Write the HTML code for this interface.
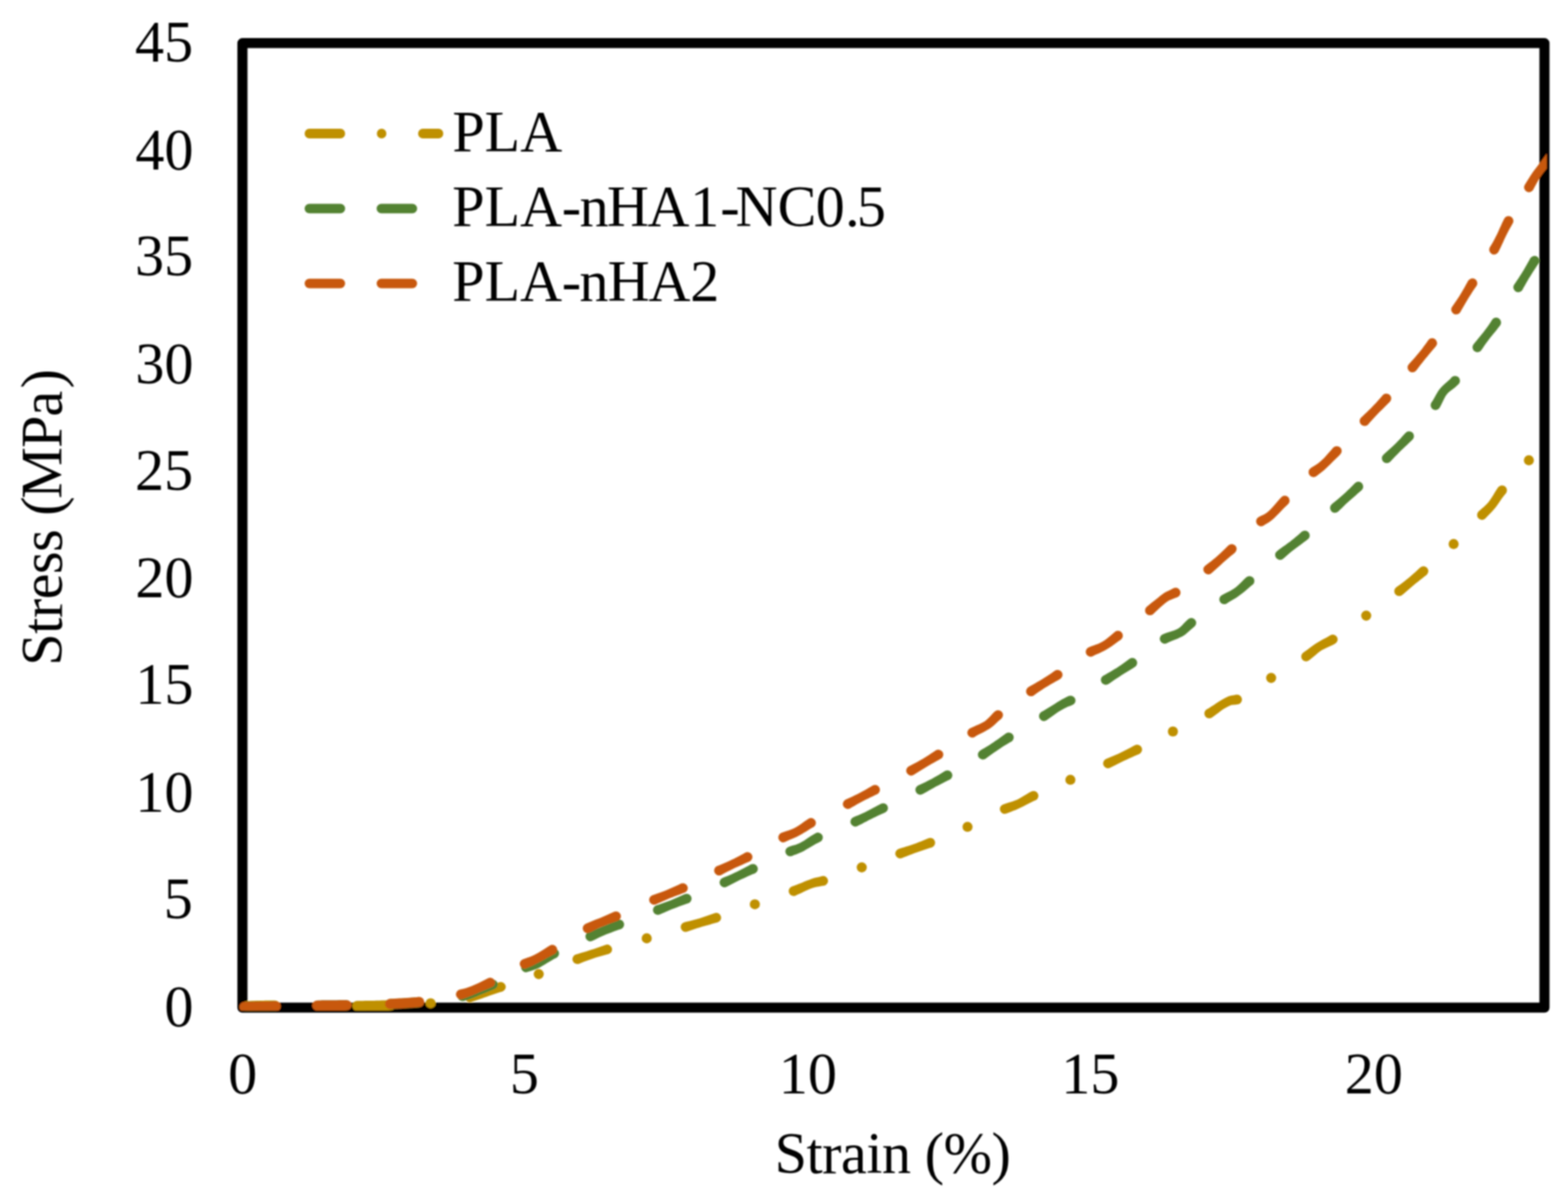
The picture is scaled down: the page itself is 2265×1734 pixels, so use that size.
<!DOCTYPE html>
<html lang="en">
<head>
<meta charset="utf-8">
<title>Stress–strain curves</title>
<style>
html,body{margin:0;padding:0;background:#fff;}
body{width:2265px;height:1734px;overflow:hidden;}
svg{display:block;}
text{font-family:"Liberation Serif","Times New Roman",serif;font-size:84px;fill:#000;}
</style>
</head>
<body>
<svg xmlns="http://www.w3.org/2000/svg" width="2265" height="1734" viewBox="0 0 2265 1734">
<defs>
<clipPath id="plotclip"><rect x="345.6" y="50" width="1888.8" height="1410.3"/></clipPath>
<filter id="soft" x="0" y="0" width="2265" height="1734" filterUnits="userSpaceOnUse"><feGaussianBlur stdDeviation="1.15"/></filter>
</defs>
<rect x="0" y="0" width="2265" height="1734" fill="#fff"/>
<g filter="url(#soft)">
<!-- plot frame -->
<rect x="350.2" y="62.3" width="1880.8" height="1393.7" fill="none" stroke="#000" stroke-width="14.6" stroke-linejoin="round"/>
<!-- y axis tick labels -->
<g text-anchor="end">
<text x="279" y="89">45</text>
<text x="279.5" y="245">40</text>
<text x="279" y="398">35</text>
<text x="279.5" y="554">30</text>
<text x="279" y="708">25</text>
<text x="279.5" y="863.4">20</text>
<text x="279.5" y="1017">15</text>
<text x="279.5" y="1173.3">10</text>
<text x="278.5" y="1326.5">5</text>
<text x="279.5" y="1482.5">0</text>
</g>
<!-- x axis tick labels -->
<g text-anchor="middle">
<text x="350.5" y="1579.5">0</text>
<text x="757.5" y="1580">5</text>
<text x="1167" y="1580">10</text>
<text x="1575" y="1580">15</text>
<text x="1984.5" y="1580">20</text>
</g>
<!-- axis titles -->
<text x="1118.9" y="1694.5" letter-spacing="-0.7">Strain (%)</text>
<text text-anchor="middle" transform="translate(89 748) rotate(-90)" letter-spacing="-0.7" dx="0 0 0 0 0 0 0 0 -2.8 -0.6 -0.8 4.2">Stress (MPa)</text>
<!-- legend -->
<g fill="none" stroke-width="13.8" stroke-linecap="round">
<path d="M446.95 193H633.45" stroke="#BF9000" stroke-dasharray="44.7 59.6 0.01 59.6"/>
<path d="M446.95 301.4H633.45" stroke="#528230" stroke-dasharray="44.7 59.3"/>
<path d="M446.95 409.6H633.45" stroke="#C8590C" stroke-dasharray="44.7 59.3"/>
</g>
<text x="653.4" y="219.4">PLA</text>
<text x="653.2" y="327.4" dx="0 0 0 -0.4 -2.3 -2.5 -2 1 1.5 -6 0 -1 0.5 -4">PLA-nHA1-NC0.5</text>
<text x="653.2" y="435.4" dx="0 0 0 -0.4 -2.4 -1.4 -1.6 -0.4">PLA-nHA2</text>
<!-- data series -->
<g clip-path="url(#plotclip)">
<path fill="#BF9000" d="M356.8 1446.5L360.1 1446.4L363.5 1446.3L366.8 1446.2L370.1 1446.1L373.5 1446.1L376.8 1446.0L380.2 1445.9L383.5 1445.8L386.9 1445.8L390.3 1445.7L393.6 1445.7L397.0 1445.7A7.3 7.3 0 0 1 397.0 1460.3L393.7 1460.3L390.4 1460.3L387.1 1460.4L383.8 1460.4L380.5 1460.5L377.2 1460.6L373.9 1460.6L370.5 1460.7L367.2 1460.8L363.9 1460.9L360.5 1461.0L357.2 1461.1A7.3 7.3 0 0 1 356.8 1446.5Z M516.0 1446.2L520.0 1446.2L524.0 1446.2L528.0 1446.1L532.0 1446.0L536.1 1446.0L540.1 1445.9L544.1 1445.8L548.1 1445.7L552.2 1445.6L556.2 1445.4L560.2 1445.3L564.3 1445.2A7.3 7.3 0 0 1 564.7 1459.8L560.7 1459.9L556.6 1460.0L552.6 1460.1L548.5 1460.3L544.5 1460.4L540.4 1460.5L536.4 1460.6L532.3 1460.6L528.2 1460.7L524.2 1460.8L520.1 1460.8L516.0 1460.8A7.3 7.3 0 0 1 516.0 1446.2Z M676.9 1434.1L680.6 1433.5L684.2 1432.7L687.8 1431.7L691.5 1430.7L695.1 1429.5L698.8 1428.2L702.5 1426.8L706.2 1425.3L710.0 1423.8L713.7 1422.3L717.5 1420.8L721.2 1419.3A7.0 7.0 0 0 1 725.8 1432.7L722.0 1433.8L718.3 1434.9L714.5 1436.2L710.8 1437.5L707.0 1438.8L703.2 1440.2L699.4 1441.6L695.5 1442.9L691.7 1444.3L687.8 1445.6L683.9 1446.8L680.1 1447.9A7.0 7.0 0 0 1 676.9 1434.1Z M831.7 1379.3L835.3 1378.3L839.0 1377.1L842.7 1376.0L846.3 1374.9L850.0 1373.8L853.6 1372.6L857.2 1371.4L860.8 1370.2L864.4 1368.9L867.9 1367.7L871.5 1366.4L875.0 1365.2A7.0 7.0 0 0 1 879.2 1378.6L875.5 1379.6L871.9 1380.5L868.3 1381.5L864.7 1382.5L861.1 1383.6L857.5 1384.7L854.0 1385.9L850.4 1387.2L846.9 1388.5L843.4 1389.8L839.9 1391.2L836.3 1392.7A7.0 7.0 0 0 1 831.7 1379.3Z M988.4 1332.7L992.1 1331.8L995.9 1330.9L999.6 1329.9L1003.3 1328.9L1007.0 1327.9L1010.7 1326.9L1014.3 1325.7L1018.0 1324.5L1021.6 1323.3L1025.2 1322.0L1028.8 1320.7L1032.4 1319.4A7.0 7.0 0 0 1 1036.8 1332.8L1033.0 1333.8L1029.2 1334.8L1025.5 1335.9L1021.8 1336.9L1018.0 1337.9L1014.3 1339.0L1010.6 1340.2L1007.0 1341.3L1003.3 1342.5L999.7 1343.8L996.0 1345.0L992.4 1346.3A7.0 7.0 0 0 1 988.4 1332.7Z M1143.8 1281.0L1147.4 1279.8L1150.8 1278.5L1154.4 1277.1L1158.0 1275.7L1161.7 1274.1L1165.4 1272.6L1169.1 1271.2L1172.9 1269.8L1176.8 1268.6L1180.5 1267.7L1184.0 1266.9L1187.4 1265.9A7.0 7.0 0 0 1 1190.6 1279.7L1186.9 1280.3L1183.3 1280.9L1179.9 1281.5L1176.7 1282.2L1173.4 1283.2L1170.0 1284.4L1166.6 1285.9L1163.2 1287.5L1159.7 1289.2L1156.2 1290.9L1152.5 1292.6L1149.0 1294.2A7.0 7.0 0 0 1 1143.8 1281.0Z M1297.9 1226.8L1301.6 1225.6L1305.3 1224.5L1309.0 1223.3L1312.6 1222.2L1316.3 1221.0L1319.9 1219.8L1323.5 1218.5L1327.0 1217.1L1330.6 1215.7L1334.1 1214.3L1337.6 1212.8L1341.2 1211.2A7.0 7.0 0 0 1 1346.2 1224.4L1342.5 1225.6L1338.8 1226.8L1335.1 1228.1L1331.4 1229.3L1327.8 1230.5L1324.1 1231.7L1320.5 1233.1L1316.9 1234.4L1313.3 1235.8L1309.8 1237.2L1306.2 1238.6L1302.7 1240.0A7.0 7.0 0 0 1 1297.9 1226.8Z M1448.9 1162.4L1452.5 1161.2L1456.1 1160.1L1459.6 1159.1L1462.9 1158.0L1466.1 1156.8L1469.4 1155.4L1472.6 1153.7L1476.0 1151.8L1479.3 1149.8L1482.8 1147.7L1486.3 1145.6L1489.7 1143.7A7.0 7.0 0 0 1 1496.1 1156.3L1492.6 1157.8L1489.2 1159.5L1485.7 1161.3L1482.2 1163.1L1478.6 1165.0L1474.9 1166.8L1471.2 1168.6L1467.5 1170.2L1463.9 1171.6L1460.5 1172.9L1457.2 1174.2L1453.9 1175.6A7.0 7.0 0 0 1 1448.9 1162.4Z M1597.6 1096.7L1601.1 1095.2L1604.7 1093.8L1608.3 1092.3L1611.8 1090.7L1615.4 1089.2L1618.9 1087.5L1622.4 1085.8L1625.8 1084.1L1629.3 1082.3L1632.7 1080.5L1636.2 1078.6L1639.6 1076.8A7.0 7.0 0 0 1 1645.8 1089.4L1642.2 1091.0L1638.6 1092.6L1635.0 1094.2L1631.4 1095.7L1627.9 1097.4L1624.3 1099.0L1620.8 1100.7L1617.3 1102.5L1613.8 1104.2L1610.4 1106.0L1606.9 1107.7L1603.4 1109.5A7.0 7.0 0 0 1 1597.6 1096.7Z M1743.1 1025.0L1746.4 1023.2L1749.6 1021.1L1753.0 1018.9L1756.5 1016.5L1760.0 1014.2L1763.6 1012.0L1767.1 1009.9L1770.8 1007.9L1775.0 1006.1L1779.1 1005.1L1782.6 1004.5L1785.7 1003.8A7.0 7.0 0 0 1 1788.1 1017.8L1784.6 1018.2L1781.3 1018.4L1778.7 1018.8L1776.3 1019.7L1773.3 1021.2L1770.1 1022.9L1767.0 1024.8L1763.9 1027.1L1760.7 1029.5L1757.3 1032.1L1753.9 1034.6L1750.5 1037.0A7.0 7.0 0 0 1 1743.1 1025.0Z M1882.6 942.9L1885.8 940.8L1889.0 938.5L1892.2 936.1L1895.6 933.6L1899.1 931.1L1902.6 928.8L1906.1 926.7L1909.4 924.8L1912.7 923.1L1915.8 921.4L1918.7 919.7L1921.7 917.9A7.0 7.0 0 0 1 1928.7 930.1L1925.2 931.9L1921.8 933.5L1918.5 934.9L1915.3 936.4L1912.3 937.9L1909.3 939.6L1906.4 941.5L1903.5 943.8L1900.4 946.4L1897.3 949.0L1894.0 951.8L1890.8 954.3A7.0 7.0 0 0 1 1882.6 942.9Z M2016.7 848.8L2019.8 846.6L2022.8 844.4L2025.7 842.2L2028.7 839.9L2031.7 837.6L2034.6 835.2L2037.5 832.8L2040.3 830.3L2043.2 827.8L2046.0 825.2L2048.8 822.6L2051.6 819.9A7.0 7.0 0 0 1 2060.8 830.7L2057.7 833.0L2054.7 835.4L2051.7 837.8L2048.7 840.2L2045.7 842.6L2042.7 845.0L2039.8 847.5L2036.9 850.0L2034.0 852.4L2031.1 854.9L2028.3 857.4L2025.5 859.8A7.0 7.0 0 0 1 2016.7 848.8Z M2135.8 739.0L2138.4 736.8L2140.9 734.6L2143.4 732.4L2145.7 730.3L2148.0 728.0L2150.2 725.5L2152.4 722.5L2154.7 719.1L2157.0 715.4L2159.3 711.6L2161.7 707.8L2164.0 704.3A7.0 7.0 0 0 1 2175.4 712.7L2172.9 715.7L2170.4 719.0L2167.9 722.6L2165.4 726.2L2162.8 729.9L2160.2 733.4L2157.6 736.6L2155.0 739.5L2152.5 742.0L2150.1 744.4L2147.9 746.8L2145.6 749.2A7.0 7.0 0 0 1 2135.8 739.0Z"/>
<circle cx="622.0" cy="1449.7" r="7.3" fill="#BF9000"/><circle cx="778.2" cy="1407.6" r="7.3" fill="#BF9000"/><circle cx="934.2" cy="1355.9" r="7.3" fill="#BF9000"/><circle cx="1090.4" cy="1306.7" r="7.3" fill="#BF9000"/><circle cx="1244.8" cy="1253.4" r="7.3" fill="#BF9000"/><circle cx="1397.6" cy="1194.8" r="7.3" fill="#BF9000"/><circle cx="1546.2" cy="1126.8" r="7.3" fill="#BF9000"/><circle cx="1694.3" cy="1057.0" r="7.3" fill="#BF9000"/><circle cx="1836.2" cy="979.6" r="7.3" fill="#BF9000"/><circle cx="1973.5" cy="889.6" r="7.3" fill="#BF9000"/><circle cx="2099.8" cy="786.1" r="7.3" fill="#BF9000"/><circle cx="2208.5" cy="665.1" r="7.3" fill="#BF9000"/>
<path fill="#528230" d="M354.8 1447.7L358.3 1447.6L361.8 1447.5L365.3 1447.4L368.8 1447.3L372.3 1447.2L375.8 1447.2L379.3 1447.1L382.8 1447.0L386.3 1446.9L389.8 1446.8L393.4 1446.8L396.9 1446.7A7.3 7.3 0 0 1 397.1 1461.3L393.6 1461.4L390.2 1461.4L386.7 1461.5L383.2 1461.6L379.7 1461.7L376.2 1461.8L372.7 1461.8L369.2 1461.9L365.7 1462.0L362.2 1462.1L358.7 1462.2L355.2 1462.3A7.3 7.3 0 0 1 354.8 1447.7Z M459.1 1445.7L462.5 1445.7L465.9 1445.6L469.3 1445.6L472.7 1445.5L476.0 1445.5L479.4 1445.5L482.8 1445.4L486.2 1445.4L489.6 1445.3L492.9 1445.3L496.3 1445.3L499.7 1445.2A7.3 7.3 0 0 1 499.9 1459.8L496.5 1459.9L493.1 1459.9L489.7 1459.9L486.4 1460.0L483.0 1460.0L479.6 1460.1L476.2 1460.1L472.8 1460.1L469.4 1460.2L466.1 1460.2L462.7 1460.3L459.3 1460.3A7.3 7.3 0 0 1 459.1 1445.7Z M564.2 1443.5L567.6 1443.4L570.9 1443.2L574.3 1443.1L577.6 1442.9L580.9 1442.7L584.3 1442.5L587.6 1442.3L591.0 1442.1L594.3 1441.8L597.7 1441.6L601.0 1441.3L604.4 1441.0A7.3 7.3 0 0 1 605.6 1455.6L602.2 1455.9L598.8 1456.1L595.4 1456.4L592.0 1456.6L588.6 1456.8L585.2 1457.1L581.8 1457.3L578.4 1457.5L575.0 1457.6L571.6 1457.8L568.2 1458.0L564.8 1458.1A7.3 7.3 0 0 1 564.2 1443.5Z M666.4 1432.6L670.0 1432.0L673.4 1431.2L676.9 1430.2L680.4 1429.1L684.0 1427.8L687.6 1426.4L691.1 1424.8L694.7 1423.2L698.3 1421.5L701.9 1419.7L705.5 1417.9L709.1 1416.1A7.0 7.0 0 0 1 714.9 1428.9L711.1 1430.4L707.4 1431.9L703.7 1433.4L700.0 1435.0L696.2 1436.6L692.4 1438.1L688.7 1439.7L684.9 1441.2L681.1 1442.7L677.3 1444.1L673.4 1445.3L669.6 1446.4A7.0 7.0 0 0 1 666.4 1432.6Z M757.8 1391.0L761.4 1390.2L764.9 1389.4L768.0 1388.7L770.9 1387.8L773.9 1386.5L777.0 1384.8L780.2 1382.9L783.4 1380.7L786.7 1378.4L790.1 1376.0L793.6 1373.7L797.1 1371.5A7.0 7.0 0 0 1 803.9 1383.9L800.6 1385.5L797.3 1387.4L793.9 1389.4L790.4 1391.5L786.9 1393.7L783.3 1395.8L779.7 1397.9L775.9 1399.8L772.0 1401.3L768.3 1402.5L765.0 1403.4L761.8 1404.6A7.0 7.0 0 0 1 757.8 1391.0Z M850.0 1346.6L853.5 1345.3L857.1 1343.9L860.6 1342.5L864.1 1341.2L867.7 1339.8L871.2 1338.3L874.6 1336.9L878.1 1335.4L881.5 1333.9L885.0 1332.3L888.4 1330.8L891.8 1329.2A7.0 7.0 0 0 1 897.0 1342.4L893.5 1343.6L890.0 1344.8L886.5 1346.1L883.0 1347.4L879.5 1348.7L876.0 1350.1L872.6 1351.6L869.2 1353.1L865.8 1354.6L862.4 1356.2L859.0 1357.9L855.6 1359.6A7.0 7.0 0 0 1 850.0 1346.6Z M947.8 1308.3L951.3 1307.2L954.8 1306.0L958.3 1304.8L961.8 1303.5L965.3 1302.2L968.8 1300.9L972.2 1299.5L975.6 1298.1L979.1 1296.6L982.5 1295.1L985.8 1293.5L989.2 1292.0A7.0 7.0 0 0 1 994.6 1305.0L991.0 1306.3L987.5 1307.5L983.9 1308.8L980.4 1310.1L976.9 1311.4L973.4 1312.7L970.0 1314.1L966.5 1315.6L963.1 1317.0L959.7 1318.5L956.2 1320.0L952.8 1321.5A7.0 7.0 0 0 1 947.8 1308.3Z M1043.6 1268.7L1047.0 1267.3L1050.5 1265.9L1054.0 1264.4L1057.4 1262.9L1060.9 1261.3L1064.3 1259.7L1067.7 1258.0L1071.1 1256.3L1074.5 1254.5L1077.8 1252.7L1081.2 1250.9L1084.6 1249.1A7.0 7.0 0 0 1 1090.6 1261.9L1087.1 1263.3L1083.7 1264.8L1080.2 1266.3L1076.7 1267.9L1073.3 1269.5L1069.8 1271.1L1066.4 1272.8L1063.0 1274.5L1059.6 1276.3L1056.2 1278.0L1052.8 1279.8L1049.4 1281.5A7.0 7.0 0 0 1 1043.6 1268.7Z M1139.1 1223.7L1142.6 1222.6L1146.0 1221.6L1149.2 1220.7L1152.2 1219.6L1155.2 1218.3L1158.3 1216.6L1161.5 1214.7L1164.7 1212.6L1168.0 1210.3L1171.4 1208.1L1174.8 1205.9L1178.2 1203.9A7.0 7.0 0 0 1 1184.8 1216.3L1181.5 1217.9L1178.3 1219.6L1175.0 1221.5L1171.6 1223.5L1168.2 1225.6L1164.7 1227.6L1161.1 1229.7L1157.4 1231.5L1153.8 1233.1L1150.3 1234.4L1147.1 1235.6L1143.9 1236.9A7.0 7.0 0 0 1 1139.1 1223.7Z M1232.6 1181.0L1235.9 1179.6L1239.3 1178.2L1242.7 1176.8L1246.0 1175.2L1249.4 1173.7L1252.7 1172.1L1256.0 1170.3L1259.3 1168.6L1262.6 1166.8L1265.9 1165.0L1269.2 1163.2L1272.5 1161.4A7.0 7.0 0 0 1 1278.7 1174.0L1275.3 1175.5L1271.9 1177.0L1268.5 1178.6L1265.1 1180.2L1261.8 1181.8L1258.4 1183.4L1255.1 1185.1L1251.7 1186.9L1248.4 1188.6L1245.1 1190.4L1241.7 1192.1L1238.4 1193.8A7.0 7.0 0 0 1 1232.6 1181.0Z M1326.2 1135.0L1329.5 1133.5L1332.8 1132.0L1336.1 1130.4L1339.4 1128.8L1342.7 1127.1L1346.0 1125.4L1349.2 1123.6L1352.4 1121.8L1355.6 1119.9L1358.8 1118.0L1362.0 1116.1L1365.2 1114.1A7.0 7.0 0 0 1 1372.0 1126.5L1368.7 1128.1L1365.3 1129.8L1362.0 1131.5L1358.6 1133.2L1355.3 1134.9L1352.0 1136.6L1348.7 1138.4L1345.5 1140.2L1342.3 1142.0L1339.0 1143.9L1335.8 1145.7L1332.6 1147.6A7.0 7.0 0 0 1 1326.2 1135.0Z M1415.9 1084.4L1419.1 1082.6L1422.3 1080.8L1425.5 1078.8L1428.6 1076.9L1431.8 1074.8L1434.9 1072.7L1438.0 1070.6L1441.1 1068.4L1444.2 1066.2L1447.3 1064.0L1450.4 1061.7L1453.5 1059.6A7.0 7.0 0 0 1 1461.1 1071.4L1457.9 1073.3L1454.7 1075.2L1451.6 1077.1L1448.4 1079.1L1445.2 1081.2L1442.1 1083.3L1438.9 1085.4L1435.8 1087.6L1432.7 1089.8L1429.6 1092.0L1426.5 1094.2L1423.5 1096.4A7.0 7.0 0 0 1 1415.9 1084.4Z M1504.2 1028.8L1507.5 1027.0L1510.7 1025.1L1514.0 1023.1L1517.3 1021.0L1520.6 1019.0L1523.8 1016.9L1527.1 1014.8L1530.5 1012.7L1533.8 1010.7L1537.3 1008.9L1540.5 1007.3L1543.6 1005.8A7.0 7.0 0 0 1 1549.4 1018.6L1546.1 1019.9L1542.9 1021.1L1539.9 1022.4L1536.9 1024.0L1533.8 1025.7L1530.7 1027.6L1527.5 1029.6L1524.4 1031.8L1521.3 1034.0L1518.1 1036.3L1514.9 1038.6L1511.8 1040.8A7.0 7.0 0 0 1 1504.2 1028.8Z M1593.6 976.5L1596.9 974.7L1600.1 972.8L1603.4 971.0L1606.6 969.1L1609.8 967.1L1613.0 965.2L1616.2 963.1L1619.3 961.0L1622.4 958.8L1625.5 956.6L1628.5 954.3L1631.6 952.0A7.0 7.0 0 0 1 1639.6 963.6L1636.3 965.7L1633.0 967.7L1629.7 969.7L1626.4 971.8L1623.1 973.8L1619.9 975.8L1616.7 977.9L1613.5 980.0L1610.4 982.1L1607.2 984.3L1604.1 986.4L1601.0 988.5A7.0 7.0 0 0 1 1593.6 976.5Z M1679.4 916.7L1682.9 915.3L1686.5 914.0L1689.8 913.0L1693.0 912.0L1696.1 910.9L1699.0 909.8L1701.6 908.5L1704.1 906.7L1706.9 904.2L1709.9 901.1L1713.1 897.8L1716.3 894.7A7.0 7.0 0 0 1 1725.5 905.3L1722.3 907.9L1719.1 910.7L1715.7 913.8L1712.0 916.9L1708.1 919.4L1704.3 921.3L1700.8 922.9L1697.4 924.2L1694.2 925.5L1691.2 926.7L1688.3 927.9L1685.4 929.5A7.0 7.0 0 0 1 1679.4 916.7Z M1764.6 860.2L1767.8 858.4L1771.1 856.8L1774.2 855.2L1777.2 853.7L1780.1 852.1L1782.9 850.3L1785.6 848.2L1788.4 845.7L1791.3 843.0L1794.3 840.1L1797.2 837.1L1800.2 834.2A7.0 7.0 0 0 1 1809.6 844.8L1806.4 847.3L1803.3 849.9L1800.1 852.7L1796.9 855.4L1793.6 858.1L1790.2 860.6L1786.9 862.9L1783.7 864.9L1780.6 866.8L1777.6 868.6L1774.7 870.3L1771.8 872.2A7.0 7.0 0 0 1 1764.6 860.2Z M1844.6 796.4L1847.7 794.1L1850.8 791.8L1853.9 789.6L1857.0 787.4L1860.1 785.1L1863.1 782.9L1866.1 780.6L1869.0 778.2L1871.9 775.8L1874.7 773.4L1877.5 770.9L1880.4 768.3A7.0 7.0 0 0 1 1889.4 779.1L1886.3 781.5L1883.1 783.8L1880.0 786.2L1876.9 788.4L1873.8 790.7L1870.8 793.0L1867.8 795.3L1864.9 797.6L1862.0 800.0L1859.1 802.4L1856.3 804.9L1853.4 807.4A7.0 7.0 0 0 1 1844.6 796.4Z M1923.6 728.8L1926.5 726.3L1929.4 723.9L1932.4 721.4L1935.3 719.0L1938.2 716.5L1941.0 714.0L1943.8 711.4L1946.5 708.8L1949.3 706.2L1952.0 703.5L1954.7 700.8L1957.4 698.0A7.0 7.0 0 0 1 1967.0 708.2L1964.1 710.8L1961.1 713.3L1958.2 715.9L1955.3 718.4L1952.4 720.9L1949.5 723.4L1946.7 726.0L1943.9 728.6L1941.2 731.2L1938.5 733.9L1935.7 736.5L1933.0 739.2A7.0 7.0 0 0 1 1923.6 728.8Z M1998.2 657.2L2001.1 654.6L2003.9 652.1L2006.7 649.6L2009.5 647.1L2012.2 644.5L2014.9 642.0L2017.6 639.3L2020.2 636.6L2022.8 633.9L2025.3 631.1L2027.8 628.3L2030.4 625.4A7.0 7.0 0 0 1 2040.6 635.0L2037.8 637.8L2034.9 640.5L2032.1 643.2L2029.3 645.8L2026.5 648.5L2023.8 651.1L2021.1 653.7L2018.5 656.4L2015.9 659.0L2013.3 661.7L2010.7 664.4L2008.2 667.2A7.0 7.0 0 0 1 1998.2 657.2Z M2067.5 582.1L2069.9 578.4L2072.3 574.2L2074.9 569.6L2077.6 565.1L2080.4 561.3L2083.2 558.2L2085.8 555.7L2088.3 553.5L2090.6 551.5L2092.8 549.6L2094.8 547.7L2096.8 545.3A7.0 7.0 0 0 1 2107.0 555.1L2104.3 557.6L2101.6 559.9L2099.0 561.9L2096.6 563.7L2094.3 565.4L2092.2 567.3L2090.2 569.4L2088.3 572.0L2086.3 575.7L2084.1 580.3L2081.8 585.1L2079.5 589.3A7.0 7.0 0 0 1 2067.5 582.1Z M2128.4 497.8L2130.8 494.7L2133.3 491.7L2135.7 488.8L2138.0 485.9L2140.4 483.1L2142.7 480.2L2144.9 477.3L2147.0 474.4L2149.2 471.4L2151.3 468.4L2153.4 465.3L2155.4 462.0A7.0 7.0 0 0 1 2167.0 470.2L2164.5 473.3L2162.1 476.4L2159.7 479.4L2157.3 482.3L2154.9 485.2L2152.6 488.1L2150.4 490.9L2148.2 493.9L2146.1 496.8L2144.0 499.8L2141.9 502.9L2139.8 506.0A7.0 7.0 0 0 1 2128.4 497.8Z M2187.1 411.5L2189.2 408.4L2191.3 405.3L2193.4 402.2L2195.4 399.1L2197.4 396.0L2199.4 392.8L2201.4 389.6L2203.2 386.3L2205.1 383.1L2206.9 379.8L2208.8 376.5L2210.6 373.1A7.0 7.0 0 0 1 2222.6 380.5L2220.5 383.6L2218.4 386.7L2216.3 389.9L2214.3 393.1L2212.3 396.2L2210.3 399.4L2208.3 402.6L2206.4 405.9L2204.6 409.1L2202.7 412.4L2200.9 415.6L2199.1 418.9A7.0 7.0 0 0 1 2187.1 411.5Z"/>
<path fill="#C8590C" d="M352.8 1447.7L356.6 1447.6L360.4 1447.5L364.2 1447.4L368.0 1447.3L371.8 1447.3L375.5 1447.2L379.3 1447.1L383.1 1447.0L386.9 1446.9L390.7 1446.9L394.5 1446.8L398.3 1446.7A7.3 7.3 0 0 1 398.5 1461.3L394.8 1461.4L391.0 1461.4L387.2 1461.5L383.4 1461.6L379.6 1461.7L375.9 1461.8L372.1 1461.9L368.3 1461.9L364.5 1462.0L360.7 1462.1L357.0 1462.2L353.2 1462.3A7.3 7.3 0 0 1 352.8 1447.7Z M458.1 1445.7L461.7 1445.7L465.2 1445.6L468.8 1445.6L472.3 1445.5L475.9 1445.5L479.4 1445.5L483.0 1445.4L486.5 1445.4L490.1 1445.3L493.6 1445.3L497.1 1445.3L500.7 1445.2A7.3 7.3 0 0 1 500.9 1459.8L497.4 1459.9L493.8 1459.9L490.2 1459.9L486.7 1460.0L483.1 1460.0L479.6 1460.1L476.0 1460.1L472.5 1460.1L468.9 1460.2L465.4 1460.2L461.8 1460.3L458.3 1460.3A7.3 7.3 0 0 1 458.1 1445.7Z M563.2 1443.3L566.7 1443.2L570.2 1443.0L573.7 1442.8L577.1 1442.6L580.6 1442.4L584.1 1442.2L587.6 1442.0L591.0 1441.8L594.5 1441.5L598.0 1441.2L601.5 1440.9L604.9 1440.6A7.3 7.3 0 0 1 606.3 1455.2L602.7 1455.5L599.2 1455.8L595.6 1456.1L592.1 1456.3L588.5 1456.6L585.0 1456.8L581.5 1457.0L577.9 1457.2L574.4 1457.4L570.9 1457.6L567.3 1457.7L563.8 1457.9A7.3 7.3 0 0 1 563.2 1443.3Z M663.8 1430.1L667.3 1429.3L670.7 1428.4L674.1 1427.4L677.5 1426.2L681.0 1425.0L684.4 1423.6L687.9 1422.1L691.3 1420.4L694.8 1418.7L698.2 1417.0L701.7 1415.2L705.1 1413.4A7.0 7.0 0 0 1 711.1 1426.2L707.5 1427.7L703.9 1429.2L700.2 1430.7L696.6 1432.2L693.0 1433.7L689.4 1435.3L685.8 1436.8L682.2 1438.4L678.5 1439.8L674.9 1441.2L671.2 1442.5L667.6 1443.7A7.0 7.0 0 0 1 663.8 1430.1Z M755.2 1386.2L758.7 1384.9L762.1 1383.8L765.2 1382.7L768.3 1381.4L771.5 1379.9L774.8 1378.3L778.0 1376.5L781.2 1374.5L784.5 1372.5L787.7 1370.4L791.0 1368.3L794.3 1366.2A7.0 7.0 0 0 1 801.3 1378.4L797.9 1380.2L794.5 1382.0L791.1 1383.8L787.7 1385.7L784.3 1387.6L780.8 1389.5L777.4 1391.3L773.9 1393.1L770.4 1394.9L766.9 1396.4L763.6 1397.8L760.4 1399.2A7.0 7.0 0 0 1 755.2 1386.2Z M845.7 1335.0L849.3 1333.4L852.9 1332.0L856.4 1330.5L860.0 1329.1L863.5 1327.8L866.9 1326.4L870.3 1325.0L873.7 1323.6L877.1 1322.1L880.4 1320.6L883.8 1319.1L887.1 1317.5A7.0 7.0 0 0 1 892.5 1330.5L889.0 1331.8L885.5 1333.1L882.0 1334.3L878.5 1335.6L875.1 1336.9L871.7 1338.2L868.3 1339.6L865.0 1341.1L861.7 1342.6L858.4 1344.2L855.1 1345.9L851.9 1347.6A7.0 7.0 0 0 1 845.7 1335.0Z M942.1 1293.8L945.7 1292.5L949.2 1291.2L952.8 1289.9L956.3 1288.7L959.8 1287.4L963.3 1286.0L966.7 1284.6L970.1 1283.1L973.5 1281.6L976.9 1280.1L980.2 1278.5L983.6 1276.8A7.0 7.0 0 0 1 989.2 1289.8L985.6 1291.1L982.1 1292.5L978.5 1293.8L975.0 1295.1L971.4 1296.5L967.9 1297.8L964.5 1299.2L961.1 1300.7L957.6 1302.2L954.3 1303.7L950.9 1305.2L947.5 1306.8A7.0 7.0 0 0 1 942.1 1293.8Z M1035.7 1251.6L1039.2 1250.2L1042.7 1248.7L1046.2 1247.2L1049.7 1245.7L1053.1 1244.2L1056.6 1242.6L1060.0 1241.0L1063.3 1239.3L1066.7 1237.6L1070.0 1235.8L1073.3 1234.0L1076.6 1232.1A7.0 7.0 0 0 1 1083.0 1244.7L1079.4 1246.3L1075.9 1247.8L1072.4 1249.4L1068.9 1251.0L1065.4 1252.5L1061.9 1254.1L1058.5 1255.7L1055.1 1257.4L1051.8 1259.1L1048.4 1260.8L1045.1 1262.6L1041.7 1264.4A7.0 7.0 0 0 1 1035.7 1251.6Z M1128.6 1203.6L1132.1 1202.3L1135.7 1201.0L1139.1 1199.9L1142.4 1198.7L1145.6 1197.5L1148.6 1196.1L1151.6 1194.3L1154.8 1192.3L1158.0 1190.0L1161.3 1187.6L1164.7 1185.2L1168.1 1183.0A7.0 7.0 0 0 1 1175.3 1195.0L1172.0 1196.8L1168.7 1198.8L1165.3 1200.9L1161.8 1203.1L1158.2 1205.3L1154.5 1207.3L1150.8 1209.2L1147.3 1210.8L1143.8 1212.2L1140.5 1213.6L1137.4 1215.0L1134.2 1216.6A7.0 7.0 0 0 1 1128.6 1203.6Z M1221.4 1155.6L1224.7 1154.1L1228.1 1152.5L1231.4 1150.9L1234.7 1149.3L1238.1 1147.7L1241.4 1146.0L1244.6 1144.3L1247.9 1142.5L1251.1 1140.7L1254.3 1138.8L1257.5 1136.9L1260.7 1135.1A7.0 7.0 0 0 1 1267.3 1147.5L1263.9 1149.1L1260.6 1150.7L1257.2 1152.3L1253.9 1153.9L1250.5 1155.6L1247.2 1157.3L1244.0 1159.0L1240.7 1160.8L1237.5 1162.6L1234.3 1164.5L1231.0 1166.3L1227.8 1168.2A7.0 7.0 0 0 1 1221.4 1155.6Z M1312.6 1107.5L1316.0 1105.8L1319.3 1104.0L1322.7 1102.3L1326.0 1100.5L1329.3 1098.6L1332.6 1096.8L1335.8 1094.8L1339.0 1092.8L1342.2 1090.7L1345.4 1088.6L1348.6 1086.5L1351.8 1084.3A7.0 7.0 0 0 1 1359.2 1096.3L1355.8 1098.2L1352.4 1100.1L1349.1 1101.9L1345.7 1103.8L1342.4 1105.8L1339.0 1107.7L1335.8 1109.7L1332.5 1111.7L1329.2 1113.7L1326.0 1115.7L1322.8 1117.7L1319.6 1119.7A7.0 7.0 0 0 1 1312.6 1107.5Z M1401.1 1052.5L1404.4 1050.9L1407.7 1049.4L1410.9 1048.1L1414.0 1046.7L1417.0 1045.3L1419.9 1043.8L1422.6 1042.2L1425.2 1040.1L1427.9 1037.5L1430.9 1034.4L1434.0 1031.0L1437.1 1028.0A7.0 7.0 0 0 1 1446.5 1038.4L1443.4 1041.0L1440.3 1043.8L1437.0 1046.9L1433.5 1050.0L1429.8 1052.7L1426.3 1054.8L1422.9 1056.7L1419.7 1058.4L1416.6 1060.0L1413.5 1061.6L1410.7 1063.1L1407.7 1064.9A7.0 7.0 0 0 1 1401.1 1052.5Z M1485.4 993.1L1488.8 991.1L1492.1 989.2L1495.5 987.2L1498.8 985.3L1502.0 983.4L1505.3 981.5L1508.4 979.5L1511.6 977.5L1514.7 975.5L1517.8 973.4L1520.9 971.3L1524.0 969.1A7.0 7.0 0 0 1 1531.6 980.9L1528.3 982.9L1524.9 984.8L1521.6 986.7L1518.3 988.6L1515.1 990.5L1511.8 992.4L1508.7 994.3L1505.5 996.4L1502.4 998.4L1499.3 1000.5L1496.2 1002.7L1493.2 1004.9A7.0 7.0 0 0 1 1485.4 993.1Z M1572.5 935.5L1576.0 934.1L1579.6 932.7L1582.9 931.6L1586.0 930.4L1589.0 929.1L1592.0 927.6L1594.9 925.7L1598.0 923.4L1601.1 921.0L1604.2 918.4L1607.4 915.7L1610.6 913.0A7.0 7.0 0 0 1 1619.2 924.2L1615.8 926.5L1612.4 928.9L1609.0 931.4L1605.6 933.9L1602.0 936.2L1598.4 938.5L1594.8 940.6L1591.2 942.3L1587.8 943.9L1584.6 945.2L1581.6 946.6L1578.5 948.3A7.0 7.0 0 0 1 1572.5 935.5Z M1656.5 876.8L1659.6 874.3L1662.8 871.6L1666.1 869.0L1669.3 866.4L1672.5 863.9L1675.7 861.3L1679.0 858.7L1682.5 856.3L1686.0 854.4L1689.3 852.9L1692.2 851.5L1695.0 849.9A7.0 7.0 0 0 1 1701.2 862.7L1697.8 864.1L1694.6 865.3L1691.7 866.4L1689.0 867.6L1686.3 869.2L1683.5 871.3L1680.6 873.7L1677.6 876.3L1674.6 878.9L1671.7 881.7L1668.7 884.6L1665.7 887.4A7.0 7.0 0 0 1 1656.5 876.8Z M1740.9 817.4L1743.8 815.3L1746.7 813.1L1749.5 810.9L1752.4 808.6L1755.3 806.2L1758.1 803.8L1760.9 801.3L1763.6 798.7L1766.4 796.0L1769.1 793.4L1771.8 790.7L1774.6 788.0A7.0 7.0 0 0 1 1784.0 798.4L1781.1 800.9L1778.1 803.3L1775.2 805.8L1772.3 808.3L1769.4 810.8L1766.5 813.3L1763.7 815.9L1760.9 818.4L1758.1 821.0L1755.3 823.5L1752.5 826.0L1749.7 828.4A7.0 7.0 0 0 1 1740.9 817.4Z M1818.0 747.2L1821.2 745.6L1824.2 744.2L1826.6 743.0L1829.0 741.4L1831.6 739.4L1834.3 737.0L1837.0 734.2L1839.7 731.2L1842.5 728.0L1845.3 724.8L1848.1 721.5L1850.9 718.4A7.0 7.0 0 0 1 1860.9 728.2L1858.0 731.0L1855.1 733.8L1852.2 736.8L1849.2 739.9L1846.2 743.0L1843.2 746.1L1840.2 749.0L1837.0 751.7L1833.7 754.2L1830.5 756.2L1827.8 757.7L1825.2 759.4A7.0 7.0 0 0 1 1818.0 747.2Z M1893.2 676.6L1896.2 674.6L1899.2 672.8L1901.9 671.1L1904.4 669.2L1907.1 667.1L1909.8 664.6L1912.5 661.9L1915.2 659.1L1917.8 656.1L1920.5 653.0L1923.2 649.9L1925.9 646.8A7.0 7.0 0 0 1 1936.1 656.6L1933.2 659.4L1930.3 662.2L1927.4 665.1L1924.4 668.0L1921.5 670.9L1918.6 673.8L1915.7 676.6L1912.8 679.3L1909.7 681.8L1906.8 684.0L1904.2 685.9L1901.6 688.0A7.0 7.0 0 0 1 1893.2 676.6Z M1966.0 603.6L1968.8 601.0L1971.5 598.3L1974.3 595.7L1977.0 593.1L1979.7 590.5L1982.3 587.8L1984.9 585.1L1987.4 582.4L1990.0 579.6L1992.5 576.8L1994.9 573.9L1997.4 570.9A7.0 7.0 0 0 1 2007.8 580.5L2005.0 583.2L2002.2 586.0L1999.5 588.7L1996.8 591.4L1994.1 594.1L1991.4 596.7L1988.8 599.4L1986.2 602.2L1983.7 604.9L1981.2 607.7L1978.7 610.5L1976.2 613.4A7.0 7.0 0 0 1 1966.0 603.6Z M2034.9 526.5L2037.4 523.7L2039.9 521.0L2042.4 518.2L2044.8 515.4L2047.2 512.6L2049.6 509.7L2052.0 506.8L2054.3 503.9L2056.5 500.8L2058.8 497.8L2061.0 494.7L2063.2 491.5A7.0 7.0 0 0 1 2074.4 500.1L2071.9 503.1L2069.3 506.1L2066.8 509.0L2064.3 512.0L2061.9 514.9L2059.5 517.8L2057.1 520.7L2054.8 523.7L2052.5 526.6L2050.2 529.6L2048.0 532.5L2045.7 535.5A7.0 7.0 0 0 1 2034.9 526.5Z M2097.5 443.4L2099.6 440.6L2101.6 437.6L2103.7 434.6L2105.7 431.6L2107.7 428.4L2109.7 425.2L2111.6 422.0L2113.5 418.7L2115.4 415.4L2117.3 412.1L2119.1 408.8L2120.9 405.6A7.0 7.0 0 0 1 2132.9 413.0L2130.8 416.1L2128.7 419.1L2126.6 422.2L2124.6 425.4L2122.6 428.6L2120.6 431.8L2118.7 435.1L2116.8 438.3L2114.9 441.6L2113.0 444.8L2111.1 448.0L2109.3 451.2A7.0 7.0 0 0 1 2097.5 443.4Z M2152.1 357.3L2154.0 354.3L2155.8 351.2L2157.6 347.9L2159.4 344.5L2161.2 341.0L2163.0 337.4L2164.7 333.8L2166.3 330.1L2168.0 326.4L2169.6 322.8L2171.3 319.3L2172.9 316.0A7.0 7.0 0 0 1 2185.3 322.6L2183.5 325.7L2181.6 328.9L2179.8 332.3L2178.0 335.7L2176.2 339.3L2174.4 342.9L2172.7 346.5L2171.1 350.2L2169.4 353.8L2167.7 357.4L2166.1 360.8L2164.5 364.1A7.0 7.0 0 0 1 2152.1 357.3Z M2202.5 267.2L2205.4 262.5L2208.4 257.7L2211.4 252.9L2214.4 248.5L2217.4 244.5L2220.3 240.7L2223.1 237.1L2225.8 233.6L2228.4 230.0L2231.1 226.3L2233.7 222.6L2236.4 218.8A7.0 7.0 0 0 1 2247.6 227.2L2244.7 230.8L2241.8 234.4L2238.9 238.1L2236.0 241.6L2233.1 245.1L2230.3 248.5L2227.6 252.1L2225.0 255.8L2222.5 259.8L2219.9 264.4L2217.3 269.3L2214.7 274.2A7.0 7.0 0 0 1 2202.5 267.2Z"/>
</g>
</g>
</svg>
</body>
</html>
